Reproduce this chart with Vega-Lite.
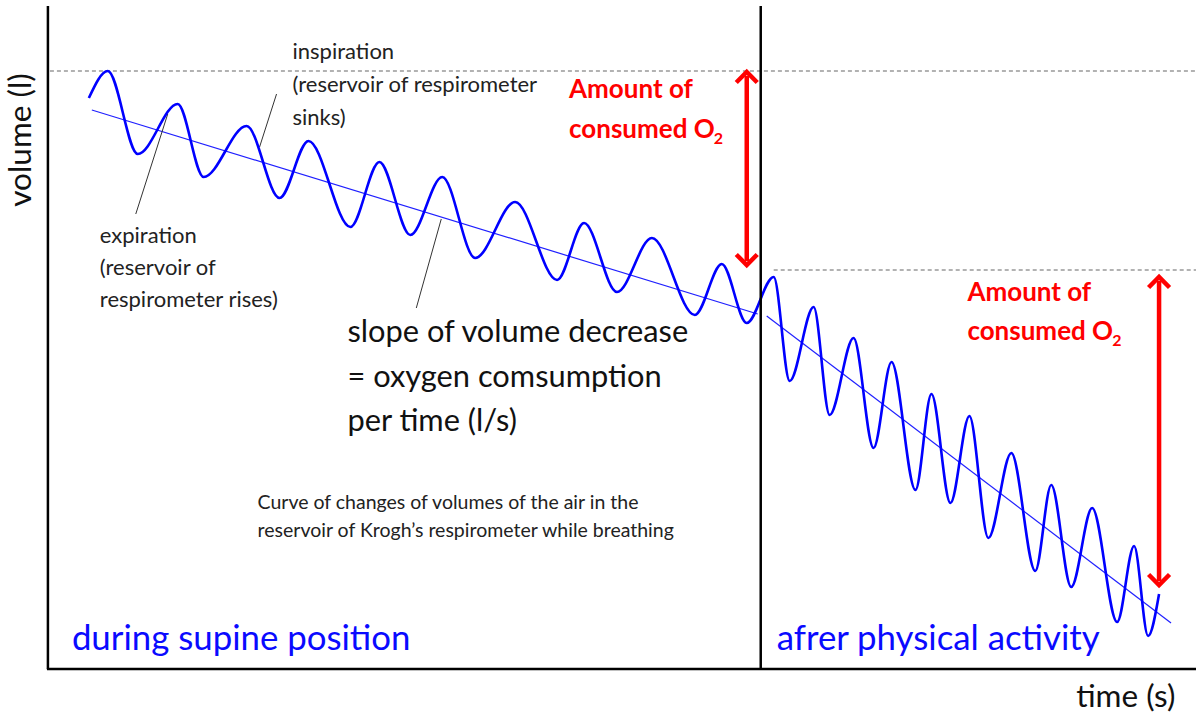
{
  "$schema": "https://vega.github.io/schema/vega-lite/v6.json",
  "width": 1198,
  "height": 716,
  "autosize": {"type": "fit", "contains": "padding"},
  "padding": 0,
  "background": "white",
  "config": {"view": {"stroke": null}},
  "datasets": {
    "curve": [
      {"x": 89, "y": 98}, {"x": 108, "y": 71}, {"x": 138, "y": 154}, {"x": 178, "y": 104},
      {"x": 204, "y": 177}, {"x": 247, "y": 126}, {"x": 280, "y": 198}, {"x": 309, "y": 141},
      {"x": 351, "y": 227}, {"x": 380, "y": 162}, {"x": 411, "y": 235}, {"x": 443, "y": 177},
      {"x": 476, "y": 258}, {"x": 516, "y": 202}, {"x": 558, "y": 280}, {"x": 585, "y": 223},
      {"x": 618, "y": 292}, {"x": 653, "y": 238}, {"x": 696, "y": 315}, {"x": 723, "y": 264},
      {"x": 748, "y": 323}, {"x": 775, "y": 277}, {"x": 791, "y": 381}, {"x": 815, "y": 307},
      {"x": 831, "y": 415}, {"x": 855, "y": 338}, {"x": 875, "y": 448}, {"x": 893, "y": 362},
      {"x": 917, "y": 490}, {"x": 933, "y": 394}, {"x": 952, "y": 503}, {"x": 971, "y": 416},
      {"x": 990, "y": 538}, {"x": 1013, "y": 453}, {"x": 1037, "y": 571}, {"x": 1053, "y": 485},
      {"x": 1073, "y": 587}, {"x": 1094, "y": 508}, {"x": 1119, "y": 622}, {"x": 1136, "y": 546},
      {"x": 1150, "y": 636}, {"x": 1161, "y": 594}
    ],
    "trend": [
      {"x": 92, "y": 110, "x2": 759, "y2": 314},
      {"x": 768, "y": 316, "x2": 1173, "y2": 623}
    ],
    "frame": [
      {"x": 48, "y": 6, "x2": 48, "y2": 669},
      {"x": 47, "y": 669, "x2": 1198, "y2": 669},
      {"x": 762, "y": 6, "x2": 762, "y2": 669}
    ],
    "dashes": [
      {"x": 50, "y": 71, "x2": 1198, "y2": 71},
      {"x": 775, "y": 270, "x2": 1198, "y2": 270}
    ],
    "leaders": [
      {"x": 277, "y": 94, "x2": 260, "y2": 147},
      {"x": 168, "y": 114, "x2": 136, "y2": 214},
      {"x": 442, "y": 219, "x2": 417, "y2": 308}
    ],
    "shafts": [
      {"x": 748, "y": 76, "x2": 748, "y2": 261},
      {"x": 1161, "y": 281, "x2": 1161, "y2": 581}
    ],
    "heads": [
      {"x": 748, "y": 72, "dir": "up"},
      {"x": 748, "y": 265, "dir": "down"},
      {"x": 1161, "y": 277, "dir": "up"},
      {"x": 1161, "y": 585, "dir": "down"}
    ],
    "small": [
      {"x": 293, "y": 52, "label": "inspiration"},
      {"x": 293, "y": 85, "label": "(reservoir of respirometer"},
      {"x": 293, "y": 118, "label": "sinks)"},
      {"x": 100, "y": 236, "label": "expiration"},
      {"x": 100, "y": 268, "label": "(reservoir of"},
      {"x": 100, "y": 300, "label": "respirometer rises)"}
    ],
    "big": [
      {"x": 348, "y": 333, "label": "slope of volume decrease"},
      {"x": 348, "y": 378, "label": "= oxygen comsumption"},
      {"x": 348, "y": 422, "label": "per time (l/s)"}
    ],
    "xtitle": [
      {"x": 1078, "y": 698, "label": "time (s)"}
    ],
    "caption": [
      {"x": 258, "y": 503, "label": "Curve of changes of volumes of the air in the"},
      {"x": 258, "y": 531, "label": "reservoir of Krogh’s respirometer while breathing"}
    ],
    "blue": [
      {"x": 72, "y": 640, "label": "during supine position"},
      {"x": 778, "y": 640, "label": "afrer physical activity"}
    ],
    "red": [
      {"x": 570, "y": 90, "label": "Amount of"},
      {"x": 570, "y": 130, "label": "consumed O"},
      {"x": 969, "y": 293, "label": "Amount of"},
      {"x": 969, "y": 332, "label": "consumed O"}
    ],
    "sub": [
      {"x": 715, "y": 139, "label": "2"},
      {"x": 1114, "y": 341, "label": "2"}
    ],
    "ytitle": [
      {"x": 22, "y": 140, "label": "volume (l)"}
    ]
  },
  "encoding": {
    "x": {"field": "x", "type": "quantitative", "scale": {"domain": [0, 1198], "nice": false, "zero": false}, "axis": null},
    "y": {"field": "y", "type": "quantitative", "scale": {"domain": [0, 716], "reverse": true, "nice": false, "zero": false}, "axis": null}
  },
  "layer": [
    {
      "data": {"name": "dashes"},
      "mark": {"type": "rule", "stroke": "#666666", "strokeWidth": 1.2, "strokeDash": [4, 3]},
      "encoding": {"x2": {"field": "x2"}, "y2": {"field": "y2"}}
    },
    {
      "data": {"name": "trend"},
      "mark": {"type": "rule", "stroke": "#2020ff", "strokeWidth": 1.2},
      "encoding": {"x2": {"field": "x2"}, "y2": {"field": "y2"}}
    },
    {
      "data": {"name": "leaders"},
      "mark": {"type": "rule", "stroke": "#333333", "strokeWidth": 1},
      "encoding": {"x2": {"field": "x2"}, "y2": {"field": "y2"}}
    },
    {
      "data": {"name": "curve"},
      "mark": {"type": "line", "interpolate": "monotone", "stroke": "#0000ff", "strokeWidth": 2.6},
      "encoding": {}
    },
    {
      "data": {"name": "frame"},
      "mark": {"type": "rule", "stroke": "#000000", "strokeWidth": 2.5},
      "encoding": {"x2": {"field": "x2"}, "y2": {"field": "y2"}}
    },
    {
      "data": {"name": "shafts"},
      "mark": {"type": "rule", "stroke": "#ff0000", "strokeWidth": 4.5},
      "encoding": {"x2": {"field": "x2"}, "y2": {"field": "y2"}}
    },
    {
      "data": {"name": "heads"},
      "mark": {"type": "point", "filled": false, "stroke": "#ff0000", "strokeWidth": 4.5, "size": 440, "opacity": 1, "strokeJoin": "miter", "strokeCap": "butt"},
      "encoding": {
        "shape": {"field": "dir", "type": "nominal", "scale": {"domain": ["up", "down"], "range": ["M -1 1 L 0 0 L 1 1", "M -1 -1 L 0 0 L 1 -1"]}, "legend": null}
      }
    },
    {
      "data": {"name": "small"},
      "mark": {"type": "text", "align": "left", "baseline": "middle", "font": "Lato", "fontSize": 22, "fill": "#222222"},
      "encoding": {"text": {"field": "label"}}
    },
    {
      "data": {"name": "big"},
      "mark": {"type": "text", "align": "left", "baseline": "middle", "font": "Lato", "fontSize": 30.8, "fill": "#111111"},
      "encoding": {"text": {"field": "label"}}
    },
    {
      "data": {"name": "xtitle"},
      "mark": {"type": "text", "align": "left", "baseline": "middle", "font": "Lato", "fontSize": 31.5, "fill": "#111111"},
      "encoding": {"text": {"field": "label"}}
    },
    {
      "data": {"name": "caption"},
      "mark": {"type": "text", "align": "left", "baseline": "middle", "font": "Lato", "fontSize": 19.5, "fill": "#222222"},
      "encoding": {"text": {"field": "label"}}
    },
    {
      "data": {"name": "blue"},
      "mark": {"type": "text", "align": "left", "baseline": "middle", "font": "Lato", "fontSize": 34.8, "fill": "#0a0aff"},
      "encoding": {"text": {"field": "label"}}
    },
    {
      "data": {"name": "red"},
      "mark": {"type": "text", "align": "left", "baseline": "middle", "font": "Lato", "fontSize": 26, "fontWeight": "bold", "fill": "#ff0000"},
      "encoding": {"text": {"field": "label"}}
    },
    {
      "data": {"name": "sub"},
      "mark": {"type": "text", "align": "left", "baseline": "middle", "font": "Lato", "fontSize": 16, "fontWeight": "bold", "fill": "#ff0000"},
      "encoding": {"text": {"field": "label"}}
    },
    {
      "data": {"name": "ytitle"},
      "mark": {"type": "text", "align": "center", "baseline": "middle", "angle": 270, "font": "Lato", "fontSize": 31.5, "fill": "#111111"},
      "encoding": {"text": {"field": "label"}}
    }
  ]
}
